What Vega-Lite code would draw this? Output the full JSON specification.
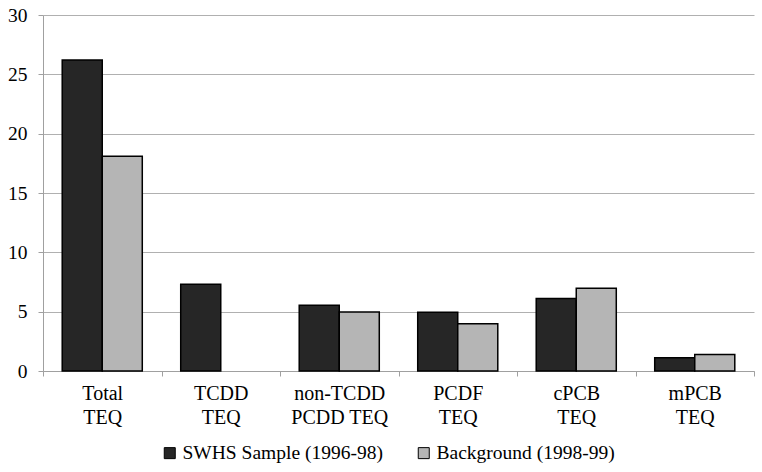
{
  "$schema": "https://vega.github.io/schema/vega-lite/v6.json",
  "width": 711,
  "height": 356,
  "autosize": {"type": "none"},
  "padding": {"left": 43, "top": 15, "right": 8, "bottom": 101},
  "background": "white",
  "config": {
    "font": "Liberation Serif",
    "view": {"stroke": null}
  },
  "data": {
    "values": [
      {"category": "Total TEQ", "series": "SWHS Sample (1996-98)", "value": 26.2},
      {"category": "Total TEQ", "series": "Background (1998-99)", "value": 18.1},
      {"category": "TCDD TEQ", "series": "SWHS Sample (1996-98)", "value": 7.3},
      {"category": "non-TCDD PCDD TEQ", "series": "SWHS Sample (1996-98)", "value": 5.55},
      {"category": "non-TCDD PCDD TEQ", "series": "Background (1998-99)", "value": 4.97},
      {"category": "PCDF TEQ", "series": "SWHS Sample (1996-98)", "value": 4.95},
      {"category": "PCDF TEQ", "series": "Background (1998-99)", "value": 3.98},
      {"category": "cPCB TEQ", "series": "SWHS Sample (1996-98)", "value": 6.12},
      {"category": "cPCB TEQ", "series": "Background (1998-99)", "value": 6.97},
      {"category": "mPCB TEQ", "series": "SWHS Sample (1996-98)", "value": 1.12},
      {"category": "mPCB TEQ", "series": "Background (1998-99)", "value": 1.4}
    ]
  },
  "mark": {"type": "bar", "stroke": "black", "strokeWidth": 1.5},
  "encoding": {
    "x": {
      "field": "category",
      "type": "nominal",
      "sort": ["Total TEQ", "TCDD TEQ", "non-TCDD PCDD TEQ", "PCDF TEQ", "cPCB TEQ", "mPCB TEQ"],
      "scale": {"paddingInner": 0, "paddingOuter": 0},
      "axis": {
        "title": null,
        "labelAngle": 0,
        "tickBand": "extent",
        "domainColor": "#a0a0a0",
        "tickColor": "#a0a0a0",
        "tickSize": 5,
        "labelFont": "Liberation Serif",
        "labelFontSize": 20,
        "labelColor": "black",
        "labelPadding": 7,
        "labelLineHeight": 24,
        "labelBaseline": "top",
        "labelExpr": "datum.label == 'non-TCDD PCDD TEQ' ? ['non-TCDD', 'PCDD TEQ'] : split(datum.label, ' ')"
      }
    },
    "xOffset": {
      "field": "series",
      "type": "nominal",
      "sort": ["SWHS Sample (1996-98)", "Background (1998-99)"],
      "scale": {"paddingInner": 0, "paddingOuter": 0.48}
    },
    "y": {
      "field": "value",
      "type": "quantitative",
      "scale": {"domain": [0, 30], "nice": false},
      "axis": {
        "title": null,
        "values": [0, 5, 10, 15, 20, 25, 30],
        "gridColor": "#b0b0b0",
        "gridWidth": 1,
        "domainColor": "#a0a0a0",
        "tickColor": "#a0a0a0",
        "tickSize": 5,
        "labelFont": "Liberation Serif",
        "labelFontSize": 19.5,
        "labelColor": "black",
        "labelPadding": 11
      }
    },
    "fill": {
      "field": "series",
      "type": "nominal",
      "sort": ["SWHS Sample (1996-98)", "Background (1998-99)"],
      "scale": {"range": ["#262626", "#b5b5b5"]},
      "legend": {
        "title": null,
        "orient": "none",
        "direction": "horizontal",
        "legendX": 117,
        "legendY": 428,
        "symbolType": "square",
        "symbolSize": 121,
        "symbolStrokeColor": "black",
        "symbolStrokeWidth": 1,
        "labelFont": "Liberation Serif",
        "labelFontSize": 19.5,
        "labelLimit": 400,
        "labelColor": "black",
        "labelOffset": 3,
        "columnPadding": 31
      }
    }
  }
}
